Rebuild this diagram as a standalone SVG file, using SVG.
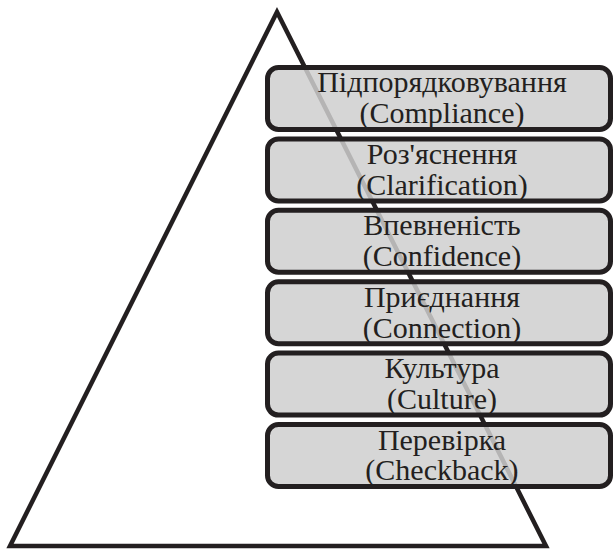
<svg xmlns="http://www.w3.org/2000/svg" width="616" height="549" viewBox="0 0 616 549">
<style>
.tri{fill:none;stroke:#231f20;stroke-width:4.5;stroke-linejoin:miter}
.box{fill:#cfcfcf;fill-opacity:0.85;stroke:#231f20;stroke-width:5}
.t{font-family:"Liberation Serif","Times New Roman",serif;font-size:30px;fill:#231f20;text-anchor:middle}
</style>
<rect width="616" height="549" fill="#fff"/>
<g id="connectors">
<polygon class="tri" points="277,12 10,546 546,546"/>
</g>
<g id="n1"><rect class="box" x="267.5" y="67.5" width="343" height="62" rx="11"/>
<text class="t" x="442" y="92">Підпорядковування</text><text class="t" x="442" y="123">(Compliance)</text></g>
<g id="n2"><rect class="box" x="267.5" y="138.9" width="343" height="62" rx="11"/>
<text class="t" x="442" y="163.5">Роз'яснення</text><text class="t" x="442" y="194.5">(Clarification)</text></g>
<g id="n3"><rect class="box" x="267.5" y="210.3" width="343" height="62" rx="11"/>
<text class="t" x="442" y="235">Впевненість</text><text class="t" x="442" y="266">(Confidence)</text></g>
<g id="n4"><rect class="box" x="267.5" y="281.7" width="343" height="62" rx="11"/>
<text class="t" x="442" y="306.5">Приєднання</text><text class="t" x="442" y="337.5">(Connection)</text></g>
<g id="n5"><rect class="box" x="267.5" y="353.1" width="343" height="62" rx="11"/>
<text class="t" x="442" y="378">Культура</text><text class="t" x="442" y="409">(Culture)</text></g>
<g id="n6"><rect class="box" x="267.5" y="424.5" width="343" height="62" rx="11"/>
<text class="t" x="442" y="449.5">Перевірка</text><text class="t" x="442" y="480">(Checkback)</text></g>
</svg>
